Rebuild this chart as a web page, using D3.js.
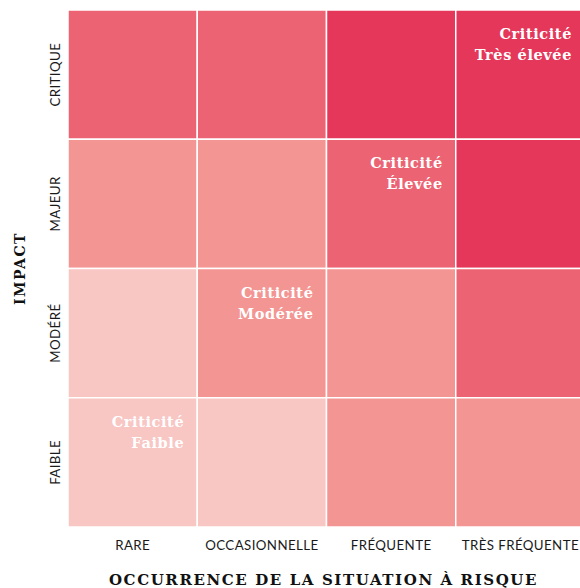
<!DOCTYPE html>
<html lang="fr">
<head>
<meta charset="UTF-8" />
<title>Matrice de criticité</title>
<style>
  body { margin: 0; padding: 0; background: #fff; }
  svg { display: block; }
</style>
</head>
<body>
<svg id="chart"></svg>
<script src="https://d3js.org/d3.v7.min.js"></script>
<script>
  const width = 580, height = 588;

  // data
  const occurrences = ["RARE", "OCCASIONNELLE", "FRÉQUENTE", "TRÈS FRÉQUENTE"];
  const impacts = ["CRITIQUE", "MAJEUR", "MODÉRÉ", "FAIBLE"];
  // criticity level per cell, rows = impacts (top to bottom), cols = occurrences
  const levels = [
    [3, 3, 4, 4],
    [2, 2, 3, 4],
    [1, 2, 2, 3],
    [1, 1, 2, 2]
  ];
  const levelColors = ["#f8c6c3", "#f39592", "#ec6473", "#e5375a"];
  const cellLabels = [
    { impact: "FAIBLE", occ: "RARE", lines: ["Criticité", "Faible"] },
    { impact: "MODÉRÉ", occ: "OCCASIONNELLE", lines: ["Criticité", "Modérée"] },
    { impact: "MAJEUR", occ: "FRÉQUENTE", lines: ["Criticité", "Élevée"] },
    { impact: "CRITIQUE", occ: "TRÈS FRÉQUENTE", lines: ["Criticité", "Très élevée"] }
  ];

  const margin = { top: 10, right: -5, bottom: 61, left: 68 };

  const svg = d3.select("#chart")
    .attr("width", width)
    .attr("height", height);

  const x = d3.scaleBand()
    .domain(occurrences)
    .range([margin.left, width - margin.right]);

  const y = d3.scaleBand()
    .domain(impacts)
    .range([margin.top, height - margin.bottom]);

  const color = d3.scaleOrdinal().domain([1, 2, 3, 4]).range(levelColors);

  const cells = [];
  impacts.forEach((imp, i) => {
    occurrences.forEach((occ, j) => {
      cells.push({ impact: imp, occ: occ, level: levels[i][j] });
    });
  });

  svg.append("g")
    .selectAll("rect")
    .data(cells)
    .join("rect")
    .attr("x", d => x(d.occ))
    .attr("y", d => y(d.impact))
    .attr("width", x.bandwidth())
    .attr("height", y.bandwidth())
    .attr("fill", d => color(d.level))
    .attr("stroke", "#fff")
    .attr("stroke-width", 1.5);

  const slab = "'DejaVu Serif', serif";
  const sans = "Lato, 'Liberation Sans', sans-serif";

  const lbl = svg.append("g")
    .selectAll("text")
    .data(cellLabels)
    .join("text")
    .attr("text-anchor", "end")
    .attr("font-family", slab)
    .attr("font-weight", "bold")
    .attr("font-size", 14.5)
    .attr("letter-spacing", 0.6)
    .attr("fill", "#fff");

  lbl.each(function(d) {
    const t = d3.select(this);
    d.lines.forEach((line, k) => {
      t.append("tspan")
        .attr("x", x(d.occ) + x.bandwidth() - 13)
        .attr("y", y(d.impact) + 29 + k * 21)
        .text(line);
    });
  });

  // x axis labels
  svg.append("g")
    .attr("transform", `translate(0,${height - margin.bottom})`)
    .call(d3.axisBottom(x).tickSize(0).tickPadding(14))
    .call(g => g.select(".domain").remove())
    .selectAll("text")
    .attr("font-family", sans)
    .attr("font-size", 13.3)
    .attr("letter-spacing", 0.4)
    .attr("fill", "#1a1a1a");

  // y axis labels
  svg.append("g")
    .attr("transform", `translate(${margin.left},0)`)
    .call(d3.axisLeft(y).tickSize(0).tickPadding(0))
    .call(g => g.select(".domain").remove())
    .selectAll("text")
    .attr("font-family", sans)
    .attr("font-size", 13.3)
    .attr("letter-spacing", 0.4)
    .attr("fill", "#1a1a1a")
    .attr("text-anchor", "middle")
    .attr("dy", 0)
    .attr("x", 0)
    .attr("transform", "translate(-8,0) rotate(-90)");

  // axis titles
  svg.append("text")
    .attr("x", (x.range()[0] + x.range()[1]) / 2 - 3)
    .attr("y", 585)
    .attr("text-anchor", "middle")
    .attr("font-family", slab)
    .attr("font-weight", "bold")
    .attr("font-size", 15)
    .attr("letter-spacing", 1.6)
    .attr("fill", "#111")
    .text("OCCURRENCE DE LA SITUATION À RISQUE");

  svg.append("text")
    .attr("transform", `translate(25,${(y.range()[0] + y.range()[1]) / 2}) rotate(-90)`)
    .attr("text-anchor", "middle")
    .attr("font-family", slab)
    .attr("font-weight", "bold")
    .attr("font-size", 14)
    .attr("letter-spacing", 1.5)
    .attr("fill", "#111")
    .text("IMPACT");
</script>
</body>
</html>
